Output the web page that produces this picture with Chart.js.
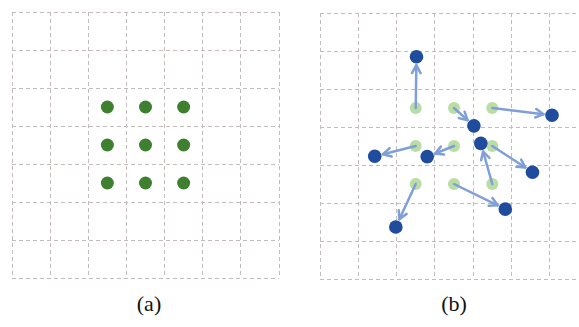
<!doctype html>
<html lang="en">
  <head>
    <meta charset="utf-8">
    <title>Deformable sampling grid</title>
    <script src="https://cdn.jsdelivr.net/npm/chart.js@4.4.0/dist/chart.umd.min.js"></script>
    <style>
      html, body { margin: 0; padding: 0; background: #fff; }
      body { width: 579px; height: 327px; position: relative; overflow: hidden; }
      .panel { position: absolute; top: 0; height: 290px; }
      .cap { position: absolute; top: 291px; font-family: "Liberation Serif", "DejaVu Serif", serif; font-size: 22px; color: #111; transform: translateX(-50%); }
    </style>
  </head>
  <body>
    <div class="panel" style="left:0; width:290px;"><canvas id="gridA"></canvas></div>
    <div class="panel" style="left:290px; width:310px;"><canvas id="gridB"></canvas></div>
    <div class="cap" style="left:149px;">(a)</div>
    <div class="cap" style="left:454px;">(b)</div>

    <script>
      // grid cells 0..7 on both axes, y counted from the top
      var gridMin = 0;
      var gridMax = 7;

      // regular 3x3 sampling positions (cell centres)
      var sampleX = [2.5, 3.5, 4.5, 2.5, 3.5, 4.5, 2.5, 3.5, 4.5];
      var sampleY = [2.5, 2.5, 2.5, 3.5, 3.5, 3.5, 4.5, 4.5, 4.5];

      // offset (deformed) positions, same order as the samples
      var shiftX = [2.52, 4.02, 6.06, 1.43, 2.80, 5.55, 1.98, 4.84, 4.20];
      var shiftY = [1.15, 2.97, 2.69, 3.77, 3.78, 4.19, 5.63, 5.16, 3.43];

      function toPoints(xs, ys) {
        return xs.map(function (x, i) { return { x: x, y: ys[i] }; });
      }

      function scaleOpts(reverse) {
        return {
          type: 'linear',
          min: gridMin,
          max: gridMax,
          reverse: reverse,
          ticks: { display: false, stepSize: 1 },
          grid: { color: '#c4bcba', lineWidth: 1, drawTicks: false, tickLength: 0 },
          border: { display: false, dash: [4, 3] }
        };
      }

      // draws the offset arrows between the green and the blue dataset
      var arrowPlugin = {
        id: 'arrows',
        afterDatasetDraw: function (chart, args, opts) {
          if (!opts.show || args.index !== 1) return;
          var ctx = chart.ctx;
          var xs = chart.scales.x, ys = chart.scales.y;
          ctx.save();
          ctx.strokeStyle = '#7f9fd8';
          ctx.lineWidth = 2.5;
          ctx.lineCap = 'round';
          ctx.lineJoin = 'round';
          for (var i = 0; i < sampleX.length; i++) {
            var x0 = xs.getPixelForValue(sampleX[i]);
            var y0 = ys.getPixelForValue(sampleY[i]);
            var x1 = xs.getPixelForValue(shiftX[i]);
            var y1 = ys.getPixelForValue(shiftY[i]);
            var dx = x1 - x0, dy = y1 - y0;
            var len = Math.sqrt(dx * dx + dy * dy);
            var ux = dx / len, uy = dy / len;
            var tx = x1 - ux * 8.5, ty = y1 - uy * 8.5;
            ctx.beginPath();
            ctx.moveTo(x0, y0);
            ctx.lineTo(tx, ty);
            ctx.stroke();
            var a = Math.atan2(uy, ux);
            var hl = 9, spread = 0.5;
            ctx.beginPath();
            ctx.moveTo(tx - hl * Math.cos(a - spread), ty - hl * Math.sin(a - spread));
            ctx.lineTo(tx, ty);
            ctx.lineTo(tx - hl * Math.cos(a + spread), ty - hl * Math.sin(a + spread));
            ctx.stroke();
          }
          ctx.restore();
        }
      };

      function makeChart(id, datasets, padding, showArrows) {
        return new Chart(document.getElementById(id), {
          type: 'scatter',
          data: { datasets: datasets },
          options: {
            responsive: false,
            animation: false,
            devicePixelRatio: 1,
            layout: { padding: padding },
            scales: { x: scaleOpts(false), y: scaleOpts(true) },
            plugins: {
              legend: { display: false },
              tooltip: { enabled: false },
              arrows: { show: showArrows }
            }
          },
          plugins: [arrowPlugin]
        });
      }

      var cA = document.getElementById('gridA');
      cA.width = 290; cA.height = 290;
      var cB = document.getElementById('gridB');
      cB.width = 310; cB.height = 290;

      makeChart('gridA', [
        { data: toPoints(sampleX, sampleY), pointRadius: 6.5, pointBackgroundColor: '#3f7f30', pointBorderWidth: 0 }
      ], { left: 12, top: 12, right: 11, bottom: 12 }, false);

      makeChart('gridB', [
        { data: toPoints(shiftX, shiftY), pointRadius: 6.8, pointBackgroundColor: '#1f4c9c', pointBorderWidth: 0 },
        { data: toPoints(sampleX, sampleY), pointRadius: 6, pointBackgroundColor: '#b9dda4', pointBorderWidth: 0 }
      ], { left: 30, top: 13, right: 12, bottom: 11 }, true);
    </script>
  </body>
</html>
